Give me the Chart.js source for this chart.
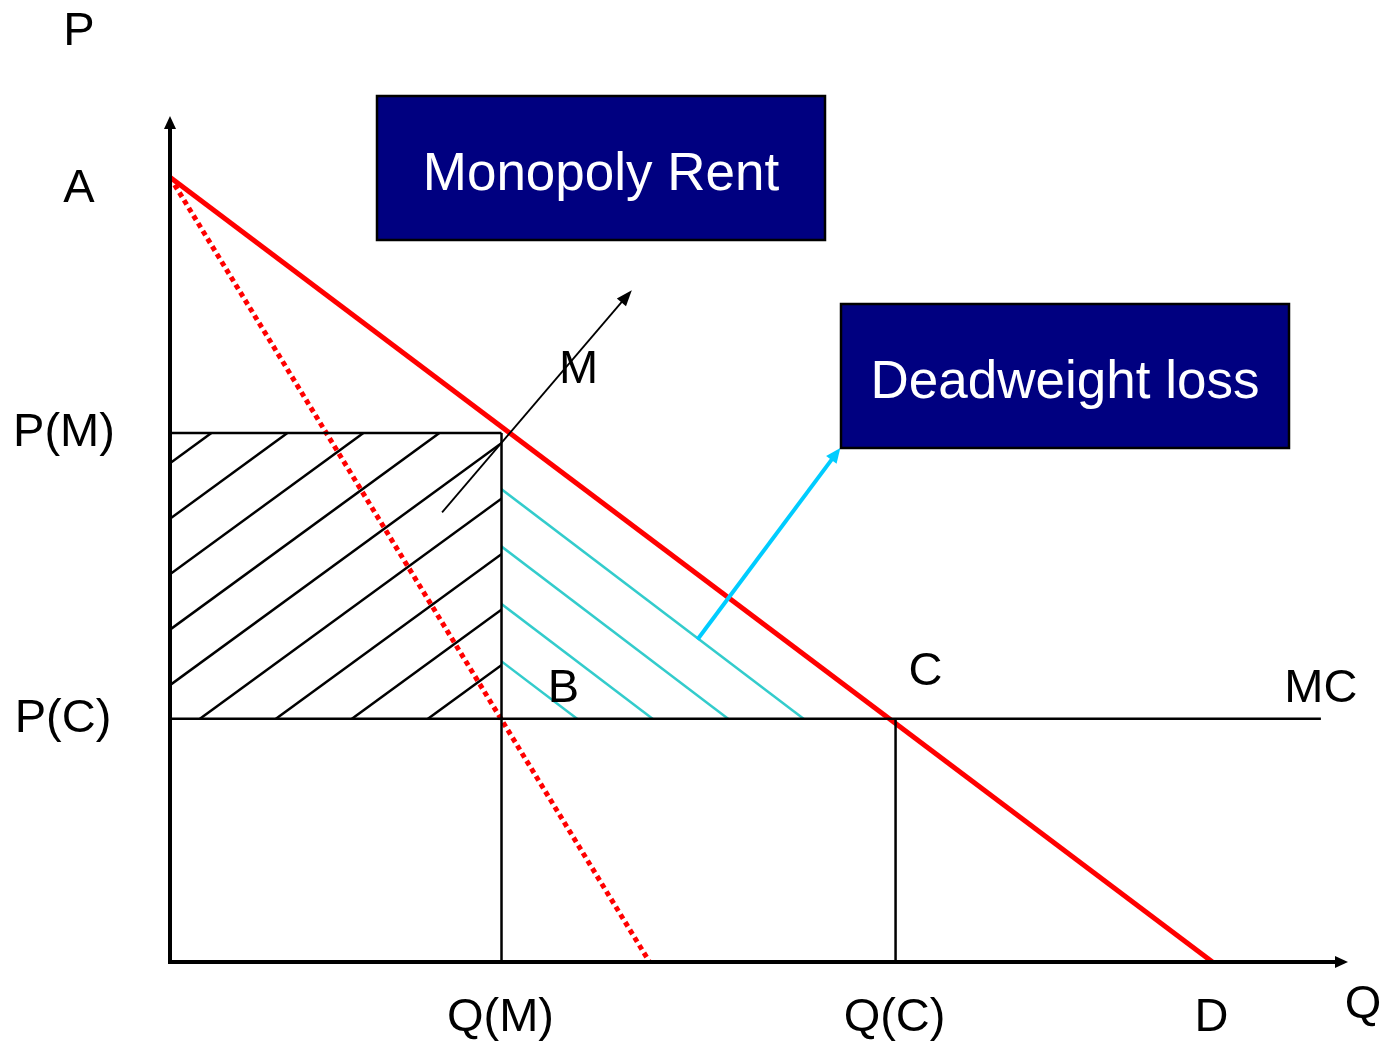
<!DOCTYPE html>
<html>
<head>
<meta charset="utf-8">
<script src="https://cdn.jsdelivr.net/npm/chart.js@4/dist/chart.umd.min.js"></script>
<style>
  body { margin: 0; background: #fff; }
  #wrap { width: 1385px; height: 1044px; position: relative; }
</style>
</head>
<body>
<div id="wrap"><canvas id="chart"></canvas></div>
<script>
// demand curve and marginal revenue (quantity / price pairs)
const demandQ = [0, 10];
const demandP = [10, 0];
const mrQ = [0, 4.6];
const mrP = [10, 0];

// monopoly point M and competitive point C
const qM = 3.18, pM = 6.74;
const qC = 6.96, pC = 3.1;
const mcQ = [0, 11.04];
const mcP = [pC, pC];

const xMax = 11.3, yMax = 10.78;

// axis labels
const priceLabels = ['A', 'P(M)', 'P(C)'];
const priceValues = [10, pM, pC];
const qtyLabels = ['Q(M)', 'Q(C)', 'D'];
const qtyValues = [qM, qC, 10];

// arrows pointing at the two boxes
const rentArrow = [[2.61, 5.73], [4.43, 8.56]];
const dwlArrow = [[5.06, 4.11], [6.43, 6.55]];

const FONT = '"Liberation Sans", Arial, sans-serif';

function pts(xs, ys) {
    return xs.map((x, i) => ({ x: x, y: ys[i] }));
}

function hatch(ctx, poly, starts, slope, color) {
    ctx.save();
    ctx.beginPath();
    poly.forEach((p, i) => i ? ctx.lineTo(p[0], p[1]) : ctx.moveTo(p[0], p[1]));
    ctx.closePath();
    ctx.clip();
    ctx.strokeStyle = color;
    ctx.lineWidth = 2.5;
    starts.forEach(s => {
        ctx.beginPath();
        ctx.moveTo(s[0] - 700, s[1] - slope * 700);
        ctx.lineTo(s[0] + 700, s[1] + slope * 700);
        ctx.stroke();
    });
    ctx.restore();
}

function arrow(ctx, x1, y1, x2, y2, color, width, head, half) {
    const a = Math.atan2(y2 - y1, x2 - x1);
    ctx.save();
    ctx.strokeStyle = color;
    ctx.fillStyle = color;
    ctx.lineWidth = width;
    ctx.beginPath();
    ctx.moveTo(x1, y1);
    ctx.lineTo(x2 - Math.cos(a) * head * 0.8, y2 - Math.sin(a) * head * 0.8);
    ctx.stroke();
    ctx.beginPath();
    ctx.moveTo(x2, y2);
    ctx.lineTo(x2 - Math.cos(a) * head + Math.sin(a) * half, y2 - Math.sin(a) * head - Math.cos(a) * half);
    ctx.lineTo(x2 - Math.cos(a) * head - Math.sin(a) * half, y2 - Math.sin(a) * head + Math.cos(a) * half);
    ctx.closePath();
    ctx.fill();
    ctx.restore();
}

function box(ctx, x1, y1, x2, y2, text) {
    ctx.save();
    ctx.fillStyle = '#000080';
    ctx.fillRect(x1, y1, x2 - x1, y2 - y1);
    ctx.strokeStyle = '#000';
    ctx.lineWidth = 2.5;
    ctx.strokeRect(x1, y1, x2 - x1, y2 - y1);
    ctx.fillStyle = '#fff';
    ctx.font = '53px ' + FONT;
    ctx.textAlign = 'center';
    ctx.textBaseline = 'alphabetic';
    ctx.fillText(text, (x1 + x2) / 2, (y1 + y2) / 2 + 22);
    ctx.restore();
}

const diagram = {
    id: 'diagram',
    beforeDatasetsDraw(chart) {
        const ctx = chart.ctx;
        const xs = chart.scales.x, ys = chart.scales.y;
        const x0 = xs.getPixelForValue(0), xm = xs.getPixelForValue(qM), xc = xs.getPixelForValue(qC);
        const ym = ys.getPixelForValue(pM), yc = ys.getPixelForValue(pC);
        // monopoly rent rectangle, black hatching
        const black = [];
        for (let k = -6; k <= 3; k++) black.push([x0 + 30 + k * 76, yc]);
        hatch(ctx, [[x0, ym], [xm, ym], [xm, yc], [x0, yc]], black, -0.73, '#000');
        // deadweight triangle, cyan hatching
        const demandAtQM = demandP[0] + (demandP[1] - demandP[0]) * qM / demandQ[1];
        const cyan = [];
        for (let k = 1; k <= 4; k++) cyan.push([xm + k * 75.5, yc]);
        hatch(ctx, [[xm, ys.getPixelForValue(demandAtQM)], [xc, yc], [xm, yc]], cyan, 0.76, '#33CCCC');
    },
    afterDatasetsDraw(chart) {
        const ctx = chart.ctx;
        const xs = chart.scales.x, ys = chart.scales.y;
        const area = chart.chartArea;
        const ox = xs.getPixelForValue(0), oy = ys.getPixelForValue(0);

        // axes with arrow heads
        ctx.save();
        ctx.strokeStyle = '#000';
        ctx.lineWidth = 4;
        ctx.beginPath();
        ctx.moveTo(ox, oy + 2);
        ctx.lineTo(ox, area.top + 10);
        ctx.moveTo(ox - 2, oy);
        ctx.lineTo(area.right - 10, oy);
        ctx.stroke();
        ctx.restore();
        arrow(ctx, ox, area.top + 20, ox, area.top, '#000', 4, 13, 6);
        arrow(ctx, area.right - 20, oy, area.right, oy, '#000', 4, 13, 6);

        // arrows to the boxes
        const px = p => [xs.getPixelForValue(p[0]), ys.getPixelForValue(p[1])];
        let a = px(rentArrow[0]), b = px(rentArrow[1]);
        arrow(ctx, a[0], a[1], b[0], b[1], '#000', 1.8, 16, 6);
        a = px(dwlArrow[0]); b = px(dwlArrow[1]);
        arrow(ctx, a[0], a[1], b[0], b[1], '#00CCFF', 4, 15, 6.5);

        box(ctx, 377, 96, 825, 240, 'Monopoly Rent');
        box(ctx, 841, 304, 1289, 448, 'Deadweight loss');

        // text labels
        ctx.save();
        ctx.fillStyle = '#000';
        ctx.font = '47px ' + FONT;
        ctx.textAlign = 'center';
        ctx.textBaseline = 'alphabetic';
        ctx.fillText('P', 79, 45);
        const priceX = [79, 64, 63];
        priceLabels.forEach((t, i) => ctx.fillText(t, priceX[i], ys.getPixelForValue(priceValues[i]) + 13 + (i === 0 ? 12 : 0)));
        qtyLabels.forEach((t, i) => ctx.fillText(t, xs.getPixelForValue(qtyValues[i]) - 1, oy + 69));
        ctx.fillText('Q', 1363, 1018);
        ctx.fillText('M', xs.getPixelForValue(qM) + 77, ys.getPixelForValue(pM) - 50);
        ctx.fillText('B', xs.getPixelForValue(qM) + 62, ys.getPixelForValue(pC) - 17);
        ctx.fillText('C', xs.getPixelForValue(qC) + 30, ys.getPixelForValue(pC) - 34);
        ctx.fillText('MC', xs.getPixelForValue(mcQ[1]), ys.getPixelForValue(pC) - 17);
        ctx.restore();
    }
};

const lineStyle = { borderColor: '#000', borderWidth: 2.5, pointRadius: 0, fill: false, tension: 0 };

new Chart(document.getElementById('chart'), {
    type: 'line',
    data: {
        datasets: [
            Object.assign({}, lineStyle, { label: 'P(M)', data: pts([0, qM], [pM, pM]) }),
            Object.assign({}, lineStyle, { label: 'Q(M)', data: pts([qM, qM], [pM, 0]) }),
            Object.assign({}, lineStyle, { label: 'Q(C)', data: pts([qC, qC], [pC, 0]) }),
            Object.assign({}, lineStyle, { label: 'MC', data: pts(mcQ, mcP) }),
            Object.assign({}, lineStyle, { label: 'MR', data: pts(mrQ, mrP), borderColor: '#FF0000', borderWidth: 5, borderDash: [5, 4] }),
            Object.assign({}, lineStyle, { label: 'Demand', data: pts(demandQ, demandP), borderColor: '#FF0000', borderWidth: 5 })
        ]
    },
    options: {
        responsive: true,
        maintainAspectRatio: false,
        animation: false,
        events: [],
        layout: { padding: { left: 170, top: 116, right: 37, bottom: 82 } },
        scales: {
            x: { type: 'linear', min: 0, max: xMax, display: false },
            y: { type: 'linear', min: 0, max: yMax, display: false }
        },
        elements: { line: { borderCapStyle: 'butt' } },
        datasets: { line: { clip: false } },
        plugins: { legend: { display: false }, tooltip: { enabled: false } }
    },
    plugins: [diagram]
});
</script>
</body>
</html>
